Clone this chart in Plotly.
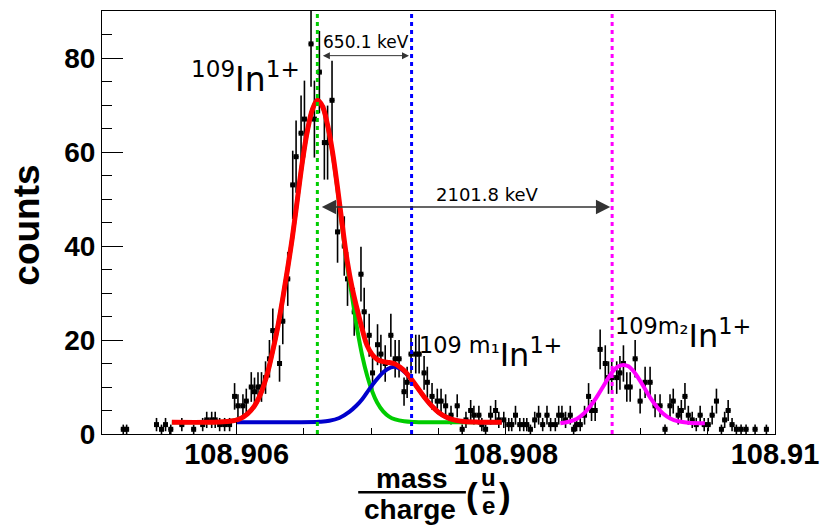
import numpy as np
import plotly.graph_objects as go

# ---------------- data ----------------
mass = [108.905158, 108.905183, 108.905405, 108.905442, 108.905472, 108.905511,
        108.905593, 108.905681, 108.905748, 108.905778, 108.905815, 108.905841,
        108.905874, 108.905911, 108.905948, 108.905985, 108.906010, 108.906047,
        108.906072, 108.906109, 108.906133, 108.906159, 108.906185, 108.906215,
        108.906244, 108.906269, 108.906319, 108.906343, 108.906380, 108.906417,
        108.906442, 108.906479, 108.906504, 108.906553, 108.906578, 108.906615,
        108.906652, 108.906676, 108.906709, 108.906750, 108.906800, 108.906824,
        108.906874, 108.906924, 108.906948, 108.906985, 108.907010, 108.907047,
        108.907072, 108.907104, 108.907146, 108.907178, 108.907207, 108.907244,
        108.907267, 108.907296, 108.907331, 108.907356, 108.907393, 108.907417,
        108.907452, 108.907491, 108.907519, 108.907553, 108.907593, 108.907639,
        108.907676, 108.907704, 108.907739, 108.907763, 108.907800, 108.907822,
        108.907850, 108.907887, 108.907924, 108.907948, 108.907985, 108.908022,
        108.908044, 108.908072, 108.908104, 108.908133, 108.908156, 108.908183,
        108.908215, 108.908244, 108.908274, 108.908306, 108.908333, 108.908368,
        108.908393, 108.908417, 108.908444, 108.908479, 108.908504, 108.908526,
        108.908553, 108.908585, 108.908615, 108.908637, 108.908664, 108.908701,
        108.908739, 108.908763, 108.908787, 108.908824, 108.908848, 108.908874,
        108.908899, 108.908924, 108.908961, 108.908998, 108.909035, 108.909072,
        108.909109, 108.909146, 108.909183, 108.909220, 108.909244, 108.909281,
        108.909304, 108.909331, 108.909356, 108.909385, 108.909415, 108.909444,
        108.909474, 108.909504, 108.909533, 108.909565, 108.909602, 108.909626,
        108.909652, 108.909681, 108.909713, 108.909748, 108.909785, 108.909852,
        108.909936]
counts = [1, 1, 2, 1, 2, 1,
          2, 1, 2, 3, 3, 3,
          2, 2, 2, 8, 6, 6,
          7, 10, 9, 10, 10, 12,
          16, 22, 15, 24, 33, 53,
          59, 64, 67, 83, 67, 77,
          62, 62, 71, 43, 40, 33,
          26, 34, 26, 21, 13, 19,
          17, 15, 21, 16, 16, 9,
          11, 17, 17, 17, 13, 11,
          8, 7, 7, 6, 4, 6,
          1, 3, 5, 4, 4, 2,
          1, 4, 5, 3, 3, 2,
          2, 4, 2, 2, 2, 1,
          3, 4, 2, 4, 2, 2,
          4, 4, 3, 4, 1, 2,
          2, 4, 8, 5, 5, 18,
          15, 12, 12, 12, 13, 15,
          10, 10, 16, 7, 11, 11,
          6, 6, 1, 6, 7, 4,
          5, 8, 4, 3, 2, 4,
          2, 2, 4, 7, 1, 3,
          5, 2, 1, 1, 1, 1,
          1]

# fitted curves
red_m = [108.905519, 108.905800, 108.905948, 108.906022, 108.906081, 108.906133,
         108.906185, 108.906230, 108.906267, 108.906304, 108.906341, 108.906378,
         108.906415, 108.906452, 108.906489, 108.906526, 108.906563, 108.906600,
         108.906637, 108.906674, 108.906711, 108.906748, 108.906785, 108.906822,
         108.906859, 108.906896, 108.906933, 108.906970, 108.907007, 108.907044,
         108.907089, 108.907133, 108.907178, 108.907215, 108.907252, 108.907289,
         108.907326, 108.907363, 108.907407, 108.907452, 108.907504, 108.907556,
         108.907615, 108.907689, 108.907800, 108.907970]
red_c = [2.5, 2.5, 2.7, 3.2, 4.3, 6.0,
         9.0, 13.0, 17.5, 22.5, 28.5, 35.0,
         42.0, 50.0, 58.0, 64.5, 69.0, 71.0,
         69.8, 66.0, 60.3, 52.8, 44.5, 36.8,
         31.0, 26.5, 22.3, 18.8, 16.9, 15.9,
         15.4, 15.2, 14.9, 14.2, 13.3, 12.0,
         10.6, 9.1, 7.4, 5.9, 4.5, 3.6,
         3.0, 2.65, 2.52, 2.5]

green_m = [108.905519, 108.905800, 108.905948, 108.906022, 108.906081, 108.906133,
           108.906185, 108.906230, 108.906267, 108.906304, 108.906341, 108.906378,
           108.906415, 108.906452, 108.906489, 108.906526, 108.906563, 108.906600,
           108.906637, 108.906674, 108.906711, 108.906748, 108.906785, 108.906822,
           108.906859, 108.906896, 108.906933, 108.906970, 108.907007, 108.907044,
           108.907089, 108.907133, 108.907178, 108.907244, 108.907319, 108.907430,
           108.907970]
green_c = [2.5, 2.5, 2.7, 3.2, 4.3, 6.0,
           9.0, 13.0, 17.5, 22.5, 28.5, 35.0,
           42.0, 50.0, 58.0, 64.5, 69.0, 71.0,
           69.7, 65.8, 60.0, 52.4, 43.8, 35.8,
           29.0, 22.3, 16.7, 12.4, 9.1, 6.7,
           4.8, 3.7, 3.1, 2.7, 2.55, 2.5,
           2.5]

blue_m = [108.906000, 108.906467, 108.906615, 108.906689, 108.906763, 108.906837,
          108.906889, 108.906933, 108.906985, 108.907030, 108.907074, 108.907119,
          108.907170, 108.907215, 108.907252, 108.907289, 108.907326, 108.907363,
          108.907407, 108.907452, 108.907504, 108.907556, 108.907615, 108.907689,
          108.907800, 108.907970]
blue_c = [2.5, 2.5, 2.6, 2.8, 3.4, 4.7,
          6.0, 7.4, 9.5, 11.2, 12.7, 13.8,
          14.3, 13.9, 13.1, 11.9, 10.5, 9.1,
          7.35, 5.9, 4.5, 3.6, 3.0, 2.66,
          2.52, 2.5]

mag_m = [108.908405, 108.908467, 108.908526, 108.908578, 108.908630, 108.908674,
         108.908719, 108.908763, 108.908800, 108.908837, 108.908874, 108.908911,
         108.908948, 108.908985, 108.909030, 108.909074, 108.909119, 108.909170,
         108.909222, 108.909281, 108.909356, 108.909479]
mag_c = [2.3, 2.6, 3.2, 4.3, 6.0, 7.8,
         9.9, 12.0, 13.5, 14.4, 14.7, 14.4,
         13.4, 11.9, 9.8, 7.7, 5.9, 4.3,
         3.3, 2.7, 2.4, 2.3]

# reference (identified) mass positions
ref_mass = [108.90660, 108.90730, 108.90879]
ref_colors = ["#00cc00", "#0000ff", "#ff00ff"]

# energy differences (arrows)
arrow_y = [80.5, 48.3]
arrow_left = [108.906630, 108.906622]
arrow_right = [108.907281, 108.908776]
arrow_text = ["650.1 keV", "2101.8 keV"]

x_tickvals = [108.906, 108.908, 108.910]
x_ticktext = ["108.906", "108.908", "108.91"]
y_tickvals = [0, 20, 40, 60, 80]

# ---------------- figure ----------------
fig = go.Figure()

fig.add_trace(go.Scatter(
    x=mass, y=counts, mode="markers",
    marker=dict(color="black", size=5, symbol="square"),
    error_y=dict(type="data", array=np.sqrt(counts), color="black",
                 thickness=1.6, width=0),
    error_x=dict(type="constant", value=0.000018, color="black",
                 thickness=1.6, width=0),
    showlegend=False, hoverinfo="skip"))

fig.add_trace(go.Scatter(x=green_m, y=green_c, mode="lines",
                         line=dict(color="#00cc00", width=4, shape="spline"),
                         showlegend=False))
fig.add_trace(go.Scatter(x=blue_m, y=blue_c, mode="lines",
                         line=dict(color="#0000cc", width=4, shape="spline"),
                         showlegend=False))
fig.add_trace(go.Scatter(x=red_m, y=red_c, mode="lines",
                         line=dict(color="#ff0000", width=5, shape="spline"),
                         showlegend=False))
fig.add_trace(go.Scatter(x=mag_m, y=mag_c, mode="lines",
                         line=dict(color="#ff00ff", width=4, shape="spline"),
                         showlegend=False))

for xm, col in zip(ref_mass, ref_colors):
    fig.add_shape(type="line", xref="x", yref="paper", x0=xm, x1=xm, y0=0, y1=1,
                  line=dict(color=col, width=3, dash="4px,4px"), layer="above")

label_font = dict(family="DejaVu Sans", color="black")
C = dict(xanchor="center", yanchor="middle", showarrow=False)

# arrows
sizes = [(1.0, 1.4), (1.3, 2.2)]
for i in range(2):
    fig.add_annotation(x=arrow_right[i], y=arrow_y[i], ax=arrow_left[i], ay=arrow_y[i],
                       xref="x", yref="y", axref="x", ayref="y", text="",
                       showarrow=True, arrowside="end+start",
                       arrowhead=2, startarrowhead=2,
                       arrowwidth=sizes[i][0], arrowsize=sizes[i][1],
                       startarrowsize=sizes[i][1],
                       arrowcolor="#333333", standoff=0, startstandoff=0)

fig.add_annotation(x=108.906963, y=83.3, xref="x", yref="y", text=arrow_text[0],
                   font=dict(size=17, **label_font), **C)
fig.add_annotation(x=108.907867, y=51.0, xref="x", yref="y", text=arrow_text[1],
                   font=dict(size=18, **label_font), **C)

# isotope labels
fig.add_annotation(x=108.906067, y=75.8, xref="x", yref="y",
                   text="<sup>109</sup>In<sup>1+</sup>",
                   font=dict(size=33, **label_font), **C)
fig.add_annotation(x=108.907889, y=17.2, xref="x", yref="y",
                   text="<sup>109 m\u2081</sup>In<sup>1+</sup>",
                   font=dict(size=32, **label_font), **C)
fig.add_annotation(x=108.909319, y=21.2, xref="x", yref="y",
                   text="<sup>109m\u2082</sup>In<sup>1+</sup>",
                   font=dict(size=32, **label_font), **C)

# axis titles
bold = dict(family="Liberation Sans", color="black", weight="bold")
fig.add_annotation(x=-0.1126, y=0.493, xref="paper", yref="paper", text="counts",
                   textangle=-90, font=dict(size=37, **bold), **C)
fig.add_annotation(x=0.4607, y=-0.106, xref="paper", yref="paper", text="mass",
                   font=dict(size=28, **bold), **C)
fig.add_annotation(x=0.4578, y=-0.1775, xref="paper", yref="paper", text="charge",
                   font=dict(size=28, **bold), **C)
fig.add_shape(type="line", xref="paper", yref="paper", x0=0.3807, x1=0.5407,
              y0=-0.1376, y1=-0.1376, line=dict(color="black", width=2.5))
fig.add_annotation(x=0.5505, y=-0.146, xref="paper", yref="paper", text="(",
                   font=dict(size=35, **bold), **C)
fig.add_annotation(x=0.5985, y=-0.146, xref="paper", yref="paper", text=")",
                   font=dict(size=35, **bold), **C)
fig.add_annotation(x=0.5745, y=-0.1026, xref="paper", yref="paper", text="u",
                   font=dict(size=24, **bold), **C)
fig.add_annotation(x=0.5745, y=-0.168, xref="paper", yref="paper", text="e",
                   font=dict(size=24, **bold), **C)
fig.add_shape(type="line", xref="paper", yref="paper", x0=0.5655, x1=0.5835,
              y0=-0.1376, y1=-0.1376, line=dict(color="black", width=2.5))

fig.update_xaxes(range=[108.905, 108.910], tickmode="array",
                 tickvals=x_tickvals, ticktext=x_ticktext,
                 ticks="inside", ticklen=12, tickwidth=1, tickcolor="black",
                 minor=dict(ticks="inside", ticklen=6, dtick=0.0005, tick0=108.905,
                            tickcolor="black", tickwidth=1, showgrid=False),
                 showline=True, linecolor="black", linewidth=1, mirror=True,
                 showgrid=False, zeroline=False, ticklabelstandoff=-6,
                 tickfont=dict(size=29, **bold))
fig.update_yaxes(range=[0, 90], tickmode="array", tickvals=y_tickvals,
                 ticks="inside", ticklen=21, tickwidth=1, tickcolor="black",
                 minor=dict(ticks="inside", ticklen=10, dtick=5, tick0=0,
                            tickcolor="black", tickwidth=1, showgrid=False),
                 showline=True, linecolor="black", linewidth=1, mirror=True,
                 showgrid=False, zeroline=False,
                 tickfont=dict(size=28, **bold))

fig.update_layout(width=829, height=526,
                  margin=dict(l=102, r=52, t=10, b=92),
                  paper_bgcolor="white", plot_bgcolor="white",
                  showlegend=False)

fig.write_html("out.html")
